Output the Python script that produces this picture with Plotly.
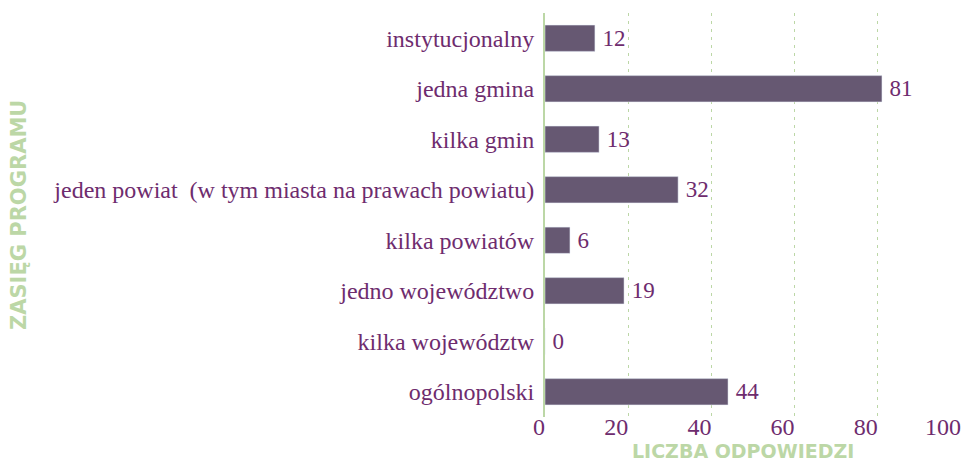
import plotly.graph_objects as go

categories = [
    "instytucjonalny",
    "jedna gmina",
    "kilka gmin",
    "jeden powiat  (w tym miasta na prawach powiatu)",
    "kilka powiatów",
    "jedno województwo",
    "kilka województw",
    "ogólnopolski",
]
counts = [12, 81, 13, 32, 6, 19, 0, 44]
x_ticks = [0, 20, 40, 60, 80, 100]

purple_text = "#6e2c6e"
bar_color = "#665872"
green = "#bcd7a6"
serif = "Liberation Serif, DejaVu Serif, serif"

fig = go.Figure(
    data=[
        go.Bar(
            x=counts,
            y=categories,
            orientation="h",
            marker_color=bar_color,
            width=0.52,
            texttemplate="\u2009%{x}",
            textposition="outside",
            textfont=dict(family=serif, size=23, color=purple_text),
            cliponaxis=False,
        )
    ]
)

# the page body adds 8px around the figure; keep it inside the 971x470 window
fig.update_layout(
    width=955,
    height=454,
    margin=dict(l=537, r=2, t=5, b=45),
    plot_bgcolor="white",
    paper_bgcolor="white",
    showlegend=False,
)

fig.update_xaxes(
    range=[0, 100],
    tickvals=x_ticks,
    tickfont=dict(family=serif, size=24, color=purple_text),
    ticklabelposition="outside left",
    ticklabelstandoff=-7,
    ticklabeloverflow="allow",
    showgrid=True,
    gridcolor=green,
    griddash="3px,5px",
    gridwidth=1,
    zeroline=False,
    showline=False,
    ticks="",
    automargin=False,
)

fig.update_yaxes(
    autorange="reversed",
    tickfont=dict(family=serif, size=24, color=purple_text),
    showline=True,
    linecolor=green,
    linewidth=2,
    showgrid=False,
    ticks="outside",
    ticklen=4,
    tickcolor="rgba(0,0,0,0)",
    automargin=False,
)

fig.add_annotation(
    text="<b>LICZBA ODPOWIEDZI</b>",
    xref="paper", yref="paper",
    x=0.5, y=0, xshift=-10, yshift=-34,
    xanchor="center", yanchor="middle",
    showarrow=False,
    font=dict(family="DejaVu Sans", size=19, color=green),
)
fig.add_annotation(
    text="<b>ZASIĘG PROGRAMU</b>",
    xref="paper", yref="paper",
    x=0, y=0.5, xshift=-526, yshift=0,
    xanchor="center", yanchor="middle",
    textangle=-90,
    showarrow=False,
    font=dict(family="DejaVu Sans", size=21, color=green),
)

fig.write_html("out.html")
